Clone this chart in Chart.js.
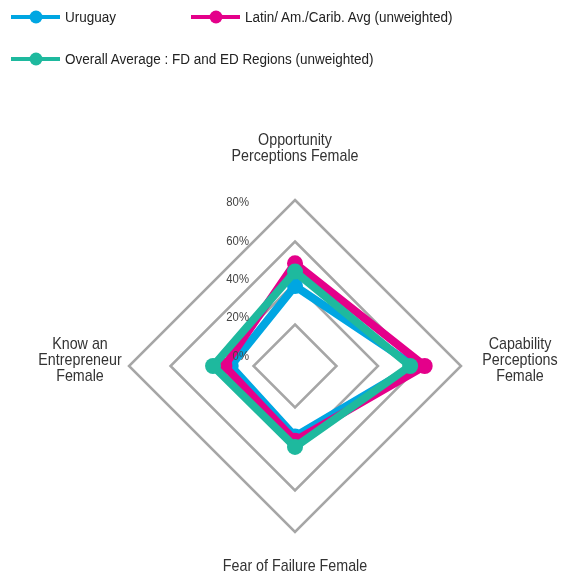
<!DOCTYPE html>
<html>
<head>
<meta charset="utf-8">
<script src="https://cdn.jsdelivr.net/npm/chart.js@4"></script>
<style>
  html, body { margin: 0; padding: 0; background: #fff; overflow: hidden; }
  #wrap { position: relative; width: 567px; height: 579px; }
  #chart { position: absolute; left: 0; top: 0; }
  .legend-item {
    position: absolute; display: flex; align-items: center;
    font-family: 'Liberation Sans', Arial, sans-serif;
    font-size: 15.5px; color: #222; white-space: nowrap;
  }
  .legend-marker { position: relative; width: 49px; height: 4px; margin-right: 5px; flex: none; }
  .legend-marker::after {
    content: ''; position: absolute; left: 50%; top: 50%;
    width: 13px; height: 13px; border-radius: 50%;
    transform: translate(-50%, -50%); background: inherit;
  }
  .legend-text { display: inline-block; transform: scaleX(0.87); transform-origin: left center; }
</style>
</head>
<body>
<div id="wrap">
  <canvas id="chart" width="567" height="579"></canvas>
  <div id="legend"></div>
</div>
<script>
// Radar: female entrepreneurship perceptions
const categories = [
  ['Opportunity', 'Perceptions Female'],
  ['Capability', 'Perceptions', 'Female'],
  ['Fear of Failure Female'],
  ['Know an', 'Entrepreneur', 'Female'],
];
const uruguay = [38.5, 57.5, 34, 31];
const latinAvg = [49.5, 62.5, 36, 34];
const overallAvg = [45.5, 55.5, 39, 39.5];
const tickValues = [0, 20, 40, 60, 80];

const FONT = "'Liberation Sans', Arial, sans-serif";
const NARROW = 0.84; // squeeze to look like a condensed face
const BLUE = '#00a6e2';
const PINK = '#e4008a';
const TEAL = '#1eb99e';

// HTML legend (left aligned, two columns on the first row)
const legendItems = [
  { label: 'Uruguay', color: BLUE, left: 11, top: 17 },
  { label: 'Latin/ Am./Carib. Avg (unweighted)', color: PINK, left: 191, top: 17 },
  { label: 'Overall Average : FD and ED Regions (unweighted)', color: TEAL, left: 11, top: 59 },
];
document.getElementById('legend').innerHTML = legendItems.map(it => `
  <div class="legend-item" style="left:${it.left}px;top:${it.top - 10}px;height:20px;">
    <span class="legend-marker" style="background:${it.color}"></span><span class="legend-text">${it.label}</span>
  </div>`).join('');

function narrowText(ctx, text, x, y, align) {
  ctx.save();
  ctx.translate(x, y);
  ctx.scale(NARROW, 1);
  ctx.textAlign = align;
  ctx.fillText(text, 0, 0);
  ctx.restore();
}

// point labels and % ticks placed like the original
const labelOffsets = [52, 59, 34, 49];
const labelPlugin = {
  id: 'radarText',
  afterDraw(chart) {
    const scale = chart.scales.r;
    const ctx = chart.ctx;
    ctx.save();
    ctx.textBaseline = 'middle';
    ctx.fillStyle = '#333';
    ctx.font = `17px ${FONT}`;
    const lh = 16;
    categories.forEach((lines, i) => {
      const p = scale.getPointPosition(i, scale.drawingArea + labelOffsets[i]);
      let y0 = p.y - (lines.length - 1) * lh / 2;
      if (i === 1 || i === 3) y0 -= 6;
      lines.forEach((t, j) => narrowText(ctx, t, p.x, y0 + j * lh, 'center'));
    });
    // tick labels sit left of the vertical axis, slightly compressed toward the centre
    ctx.fillStyle = '#444';
    ctx.font = `13.5px ${FONT}`;
    tickValues.forEach(v => {
      const d = scale.getDistanceFromCenterForValue(v);
      narrowText(ctx, v + '%', scale.xCenter - 46, scale.yCenter - 10 - d * 0.924, 'right');
    });
    ctx.restore();
  },
};

function series(label, data, color, order) {
  return {
    label, data, order,
    borderColor: color,
    backgroundColor: color,
    pointBackgroundColor: color,
    pointBorderColor: color,
    borderWidth: 8,
    borderJoinStyle: 'round',
    pointRadius: 8,
    pointBorderWidth: 0,
    fill: false,
  };
}

new Chart(document.getElementById('chart'), {
  type: 'radar',
  data: {
    labels: categories,
    datasets: [
      series('Uruguay', uruguay, BLUE, 2),
      series('Latin/ Am./Carib. Avg (unweighted)', latinAvg, PINK, 1),
      series('Overall Average : FD and ED Regions (unweighted)', overallAvg, TEAL, 0),
    ],
  },
  options: {
    responsive: false,
    animation: false,
    layout: { padding: { left: 129, right: 105, top: 200, bottom: 46 } },
    plugins: { legend: { display: false }, tooltip: { enabled: false } },
    scales: {
      r: {
        min: 0,
        max: 80,
        ticks: { stepSize: 20, display: false },
        pointLabels: { display: false },
        angleLines: { display: false },
        grid: { color: '#a6a6a6', lineWidth: 2.5 },
      },
    },
  },
  plugins: [labelPlugin],
});
</script>
</body>
</html>
